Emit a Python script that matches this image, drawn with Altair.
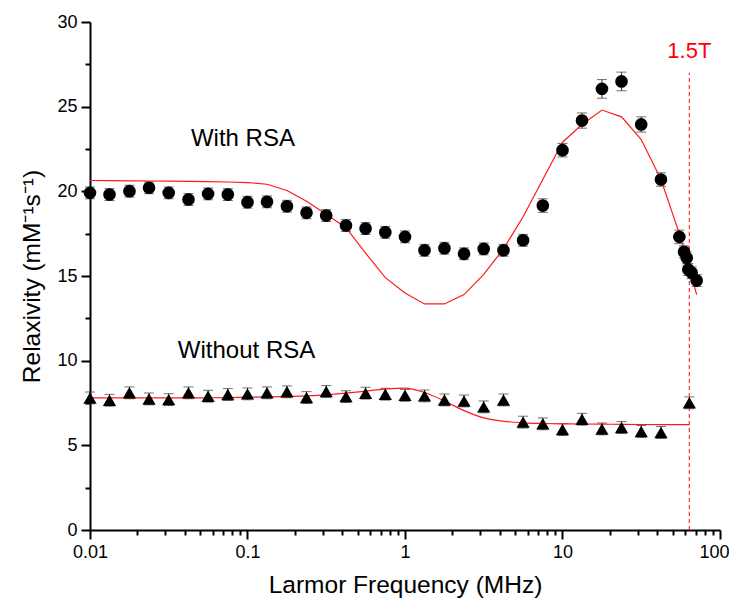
import altair as alt
import pandas as pd

# ---- data ----
freq_base = [0.01, 0.0133, 0.0178, 0.0237, 0.0316, 0.0422, 0.0562, 0.075,
             0.1, 0.133, 0.178, 0.237, 0.316, 0.422, 0.562, 0.75,
             1.0, 1.33, 1.78, 2.37, 3.16, 4.22, 5.62, 7.5,
             10.0, 13.3, 17.8, 23.7, 31.6, 42.2]

with_freq = freq_base + [55.2, 59.1, 61.5, 62.9, 66.1, 71.1]
with_r1 = [19.91, 19.81, 20.01, 20.21, 19.91, 19.52, 19.85, 19.81,
           19.36, 19.38, 19.12, 18.73, 18.57, 17.98, 17.80, 17.58,
           17.31, 16.52, 16.64, 16.31, 16.60, 16.52, 17.11, 19.16,
           22.43, 24.18, 26.05, 26.49, 23.95, 20.70,
           17.31, 16.43, 16.07, 15.38, 15.19, 14.73]
with_err = [0.35] * 23 + [0.4, 0.4, 0.45, 0.55, 0.55, 0.45, 0.4,
                          0.4, 0.35, 0.35, 0.35, 0.35, 0.35]

without_freq = freq_base + [63.9]
without_r1 = [7.80, 7.66, 8.10, 7.74, 7.70, 8.10, 7.90, 8.00,
              8.04, 8.10, 8.16, 7.82, 8.18, 7.88, 8.08, 8.02,
              7.95, 7.92, 7.68, 7.62, 7.27, 7.68, 6.37, 6.27,
              5.93, 6.54, 5.97, 6.05, 5.82, 5.76, 7.51]
without_err = [0.35] * 31

fit_with_freq = freq_base + [55.2, 71.1]
fit_with_r1 = [20.64, 20.63, 20.62, 20.61, 20.60, 20.59, 20.57, 20.55,
               20.52, 20.42, 20.05, 19.42, 18.65, 17.85, 16.35, 14.9,
               14.0, 13.35, 13.35, 13.9, 15.1, 16.6, 18.5, 20.7,
               22.9, 23.95, 24.8, 24.4, 23.06, 20.7,
               17.5, 13.9]

fit_without_freq = freq_base + [63.9]
fit_without_r1 = [7.80, 7.80, 7.80, 7.80, 7.80, 7.80, 7.81, 7.82,
                  7.84, 7.86, 7.88, 7.92, 7.98, 8.08, 8.20, 8.32,
                  8.38, 8.12, 7.62, 7.05, 6.62, 6.42, 6.33, 6.29,
                  6.27, 6.26, 6.25, 6.24, 6.23, 6.22, 6.22]

label_text = ["With RSA", "Without RSA"]
label_freq = [0.0935, 0.0986]
label_y = [23.1, 10.58]

marker_text = "1.5T"
marker_freq = 63.87
marker_top = 27.0
marker_label_y = 28.3

x_ticks = sorted(set([round(d * m, 6) for d in [0.01, 0.1, 1, 10] for m in range(1, 10)] + [100]))
y_ticks = [v * 2.5 for v in range(13)]

# ---- tables ----
df_with = pd.DataFrame({"freq": with_freq, "r1": with_r1, "err": with_err})
df_with["lo"] = df_with.r1 - df_with.err
df_with["hi"] = df_with.r1 + df_with.err
df_without = pd.DataFrame({"freq": without_freq, "r1": without_r1, "err": without_err})
df_without["lo"] = df_without.r1 - df_without.err
df_without["hi"] = df_without.r1 + df_without.err
df_fit_with = pd.DataFrame({"freq": fit_with_freq, "r1": fit_with_r1})
df_fit_without = pd.DataFrame({"freq": fit_without_freq, "r1": fit_without_r1})
df_labels = pd.DataFrame({"freq": label_freq, "r1": label_y, "text": label_text})
df_marker = pd.DataFrame({"freq": [marker_freq], "r1": [0.0], "top": [marker_top],
                          "ly": [marker_label_y], "text": [marker_text]})

FONT = "Liberation Sans"
major_test_x = "abs(log(datum.value)/LN10 - round(log(datum.value)/LN10)) < 0.001"

x_axis = alt.Axis(
    values=x_ticks,
    labelExpr=f"{major_test_x} ? format(datum.value, '~g') : ''",
    tickSize={"condition": {"test": major_test_x, "value": 9}, "value": 5},
    labelOffset={"condition": {"test": "datum.value >= 100", "value": -6}, "value": 0},
    labelOverlap=False, labelFlush=False,
    title="Larmor Frequency (MHz)", titlePadding=12,
    labelPadding=4,
)
y_axis = alt.Axis(
    values=y_ticks,
    labelExpr="datum.value % 5 === 0 ? format(datum.value, 'd') : ''",
    tickSize={"condition": {"test": "datum.value % 5 === 0", "value": 9}, "value": 5},
    labelOverlap=False,
    title="Relaxivity (mM⁻¹s⁻¹)", titlePadding=12,
    labelPadding=4,
)

yscale = alt.Scale(domain=[0, 30], nice=False, zero=False)
X = alt.X("freq:Q", scale=alt.Scale(type="log", domain=[0.01, 100], nice=False), axis=x_axis)
Y = alt.Y("r1:Q", scale=yscale, axis=y_axis)
Ylo = alt.Y("lo:Q", scale=yscale, axis=y_axis)
Yhi = alt.Y("hi:Q", scale=yscale, axis=y_axis)


def errs(df):
    base = alt.Chart(df)
    rule = base.mark_rule(color="#333333", strokeWidth=1).encode(x=X, y=Ylo, y2="hi:Q")
    cap_lo = base.mark_tick(color="#333333", orient="horizontal", size=10, thickness=1).encode(x=X, y=Ylo)
    cap_hi = base.mark_tick(color="#333333", orient="horizontal", size=10, thickness=1).encode(x=X, y=Yhi)
    return [rule, cap_lo, cap_hi]


fit_with = alt.Chart(df_fit_with).mark_line(color="#ff1a1a", strokeWidth=1.2).encode(x=X, y=Y)
fit_without = alt.Chart(df_fit_without).mark_line(color="#ff1a1a", strokeWidth=1.2, interpolate="monotone").encode(x=X, y=Y)

pts_with = alt.Chart(df_with).mark_point(shape="circle", filled=True, color="black", size=160, opacity=1).encode(x=X, y=Y)
pts_without = alt.Chart(df_without).mark_point(shape="triangle-up", filled=True, color="black", size=175, opacity=1).encode(x=X, y=Y)

marker_rule = alt.Chart(df_marker).mark_rule(color="#ff3333", strokeDash=[4, 3], strokeWidth=1.2).encode(
    x=X, y=Y, y2="top:Q")
marker_label = alt.Chart(df_marker).mark_text(color="#ff0000", font=FONT, fontSize=22, align="center", baseline="middle").encode(
    x=X, y=alt.Y("ly:Q", scale=yscale, axis=y_axis), text="text:N")

labels = alt.Chart(df_labels).mark_text(color="black", font=FONT, fontSize=24, align="center", baseline="middle").encode(
    x=X, y=Y, text="text:N")

chart = alt.layer(
    *errs(df_with), *errs(df_without),
    fit_with, fit_without,
    marker_rule,
    pts_with, pts_without,
    labels, marker_label,
).properties(
    width=630, height=508,
    autosize=alt.AutoSizeParams(type="none"),
    padding={"left": 82, "top": 14, "right": 10, "bottom": 75},
).configure_view(stroke=None).configure_axis(
    grid=False,
    domainColor="black", domainWidth=2,
    tickColor="black", tickWidth=2,
    labelFont=FONT, labelFontSize=18, labelColor="black",
    titleFont=FONT, titleFontSize=24.5, titleFontWeight="normal", titleColor="black",
)

chart.save("out.html", embed_options={"renderer": "svg", "actions": False})
